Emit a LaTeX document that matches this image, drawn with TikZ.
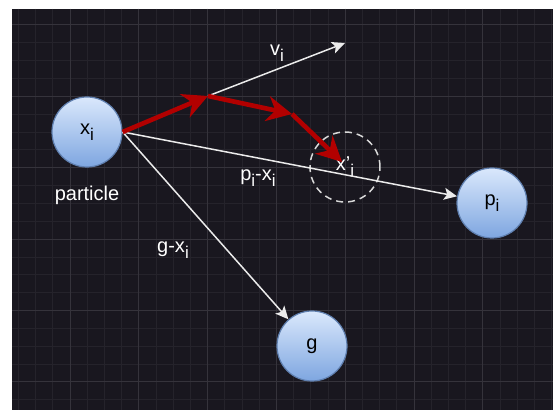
\documentclass[tikz,border=0pt]{standalone}
\usepackage{fontspec}
\setmainfont{Liberation Sans}
\usetikzlibrary{arrows.meta,positioning}
\definecolor{bgdark}{HTML}{19171F}
\definecolor{gridminor}{HTML}{25232B}
\definecolor{gridmajor}{HTML}{35333B}
\definecolor{redpath}{HTML}{B20000}
\definecolor{ballfill}{HTML}{DAE8FC}
\definecolor{ballshade}{HTML}{7EA6E0}
\definecolor{ballline}{HTML}{5F7FAF}
\newcommand{\idx}[1]{\raisebox{-0.55ex}{\fontsize{8.5}{10}\selectfont #1}}

\begin{document}
\begin{tikzpicture}[x=0.5pt,y=-0.5pt,font=\fontsize{10}{12}\selectfont,
  ball/.style={circle,draw=ballline,line width=0.6pt,top color=ballfill,bottom color=ballshade,minimum size=35pt,inner sep=0pt,text=black},
  lbl/.style={text=white,inner sep=1pt},
  vec/.style={draw=white!92!black,line width=0.75pt,-{Stealth[length=6.5pt,width=6pt,inset=1.5pt]}},
  move/.style={draw=redpath,line width=2.3pt,-{Stealth[length=12.5pt,width=12.5pt,inset=4pt]}}]
\useasboundingbox (0,0) rectangle (553,410);
% dark canvas with grid
\fill[white] (0,0) rectangle (553,410);
\fill[bgdark] (12,9) rectangle (553,410);
\foreach \k in {1,...,32} \draw[gridminor,line width=0.5pt] ({1.2+17.2*\k},9) -- ++(0,401);
\foreach \k in {0,...,21} \draw[gridminor,line width=0.5pt] (12,{25+17.85*\k}) -- ++(541,0);
\foreach \k in {0,...,6} \draw[gridmajor,line width=0.5pt] ({70+68.8*\k},9) -- ++(0,401);
\foreach \k in {0,...,5} \draw[gridmajor,line width=0.5pt] (12,{25+71.4*\k}) -- ++(541,0);
% particles
\node[ball] (xi) at (87,132) {x\idx{i}};
\node[ball] (pi) at (492,203) {p\idx{i}};
\node[ball] (g) at (312,346) {g};
\node[lbl] (part) at (87,195) {particle};
\node[circle,draw=white!85!black,line width=0.75pt,dash pattern=on 3.5pt off 2.5pt,minimum size=35pt,inner sep=0pt,text=white] (xnew) at (345,167) {x'\idx{i}};
\coordinate (turn1) at (208,96);
\coordinate (turn2) at (292,114);
\coordinate (vtip) at (345,43);
\coordinate (xtip) at (342,162);
% vectors
\draw[vec] (turn1) -- (vtip);
\draw[vec] (xi.east) -- (pi);
\draw[vec] (xi.east) -- (g);
\draw[move] (xi.east) -- (turn1);
\draw[move] (turn1) -- (turn2);
\draw[move] (turn2) -- (xtip);
\node[lbl] (vlab) at (277,53) {v\idx{i}};
\node[lbl] (plab) at (258,178) {p\idx{i}-x\idx{i}};
\node[lbl] (glab) at (173,250) {g-x\idx{i}};
\end{tikzpicture}
\end{document}
